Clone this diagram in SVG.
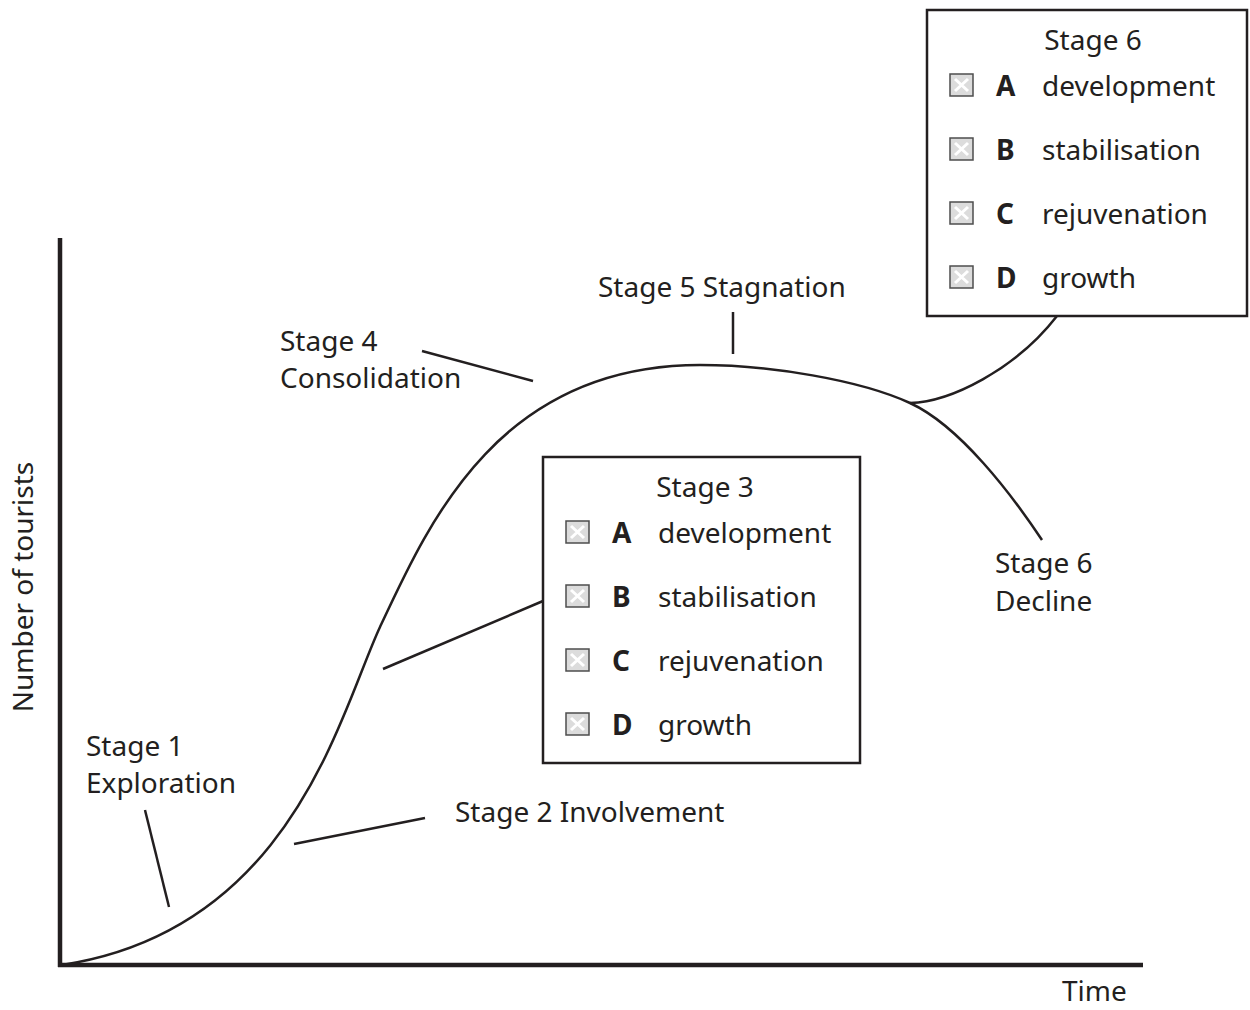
<svg xmlns="http://www.w3.org/2000/svg" width="1250" height="1010" viewBox="0 0 1250 1010">
<defs>
<style>
text{font-family:"Noto Sans","Open Sans","Liberation Sans",sans-serif;font-size:28px;fill:#231f20}
.b{font-weight:bold}
.ax{stroke:#231f20;stroke-width:4.5;fill:none}
.ln{stroke:#231f20;stroke-width:2.5;fill:none}
.box{fill:#fff;stroke:#231f20;stroke-width:2.5}
.cb{fill:#dcdcdc;stroke:#4d4d4d;stroke-width:1.5}
.cx{stroke:#fff;stroke-width:3}
</style>
<g id="chk">
<rect class="cb" x="0" y="0" width="23" height="22"/>
<path class="cx" d="M5,5 L18,17 M18,5 L5,17"/>
</g>
</defs>
<rect width="1250" height="1010" fill="#fff"/>

<g id="axes">
<path class="ax" d="M60,238 V967 M58,965 H1143"/>
<text x="1062" y="1001">Time</text>
<text transform="translate(33,587) rotate(-90)" text-anchor="middle">Number of tourists</text>
</g>

<g id="connectors">
<path id="curve" class="ln" d="M62,965 C292,930 340,713 380,627 C430,519.5 500,365 700,365 C770,365 860,380 910,403 C960,426 1012,495 1042,540"/>
<path id="branch" class="ln" d="M910,403 C950,402 1015,370 1057,316"/>
<path class="ln" d="M145,810 L169,907"/>
<path class="ln" d="M294,844 L425,818"/>
<path class="ln" d="M383,669 L543,601"/>
<path class="ln" d="M422,351 L533,381"/>
<path class="ln" d="M733,312 V354"/>
</g>

<g id="stage1"><text x="86" y="756">Stage 1</text><text x="86" y="793">Exploration</text></g>
<g id="stage2"><text x="455" y="822">Stage 2 Involvement</text></g>
<g id="stage4"><text x="280" y="351">Stage 4</text><text x="280" y="388">Consolidation</text></g>
<g id="stage5"><text x="598" y="297">Stage 5 Stagnation</text></g>
<g id="stage6decline"><text x="995" y="573">Stage 6</text><text x="995" y="611">Decline</text></g>

<g id="stage3box">
<rect class="box" x="543" y="457" width="317" height="306"/>
<text x="705" y="497" text-anchor="middle">Stage 3</text>
<use href="#chk" x="566" y="521"/><text class="b" x="612" y="543">A</text><text x="658" y="543">development</text>
<use href="#chk" x="566" y="585"/><text class="b" x="612" y="607">B</text><text x="658" y="607">stabilisation</text>
<use href="#chk" x="566" y="649"/><text class="b" x="612" y="671">C</text><text x="658" y="671">rejuvenation</text>
<use href="#chk" x="566" y="713"/><text class="b" x="612" y="735">D</text><text x="658" y="735">growth</text>
</g>

<g id="stage6box">
<rect class="box" x="927" y="10" width="320" height="306"/>
<text x="1093" y="50" text-anchor="middle">Stage 6</text>
<use href="#chk" x="950" y="74"/><text class="b" x="996" y="96">A</text><text x="1042" y="96">development</text>
<use href="#chk" x="950" y="138"/><text class="b" x="996" y="160">B</text><text x="1042" y="160">stabilisation</text>
<use href="#chk" x="950" y="202"/><text class="b" x="996" y="224">C</text><text x="1042" y="224">rejuvenation</text>
<use href="#chk" x="950" y="266"/><text class="b" x="996" y="288">D</text><text x="1042" y="288">growth</text>
</g>
</svg>
